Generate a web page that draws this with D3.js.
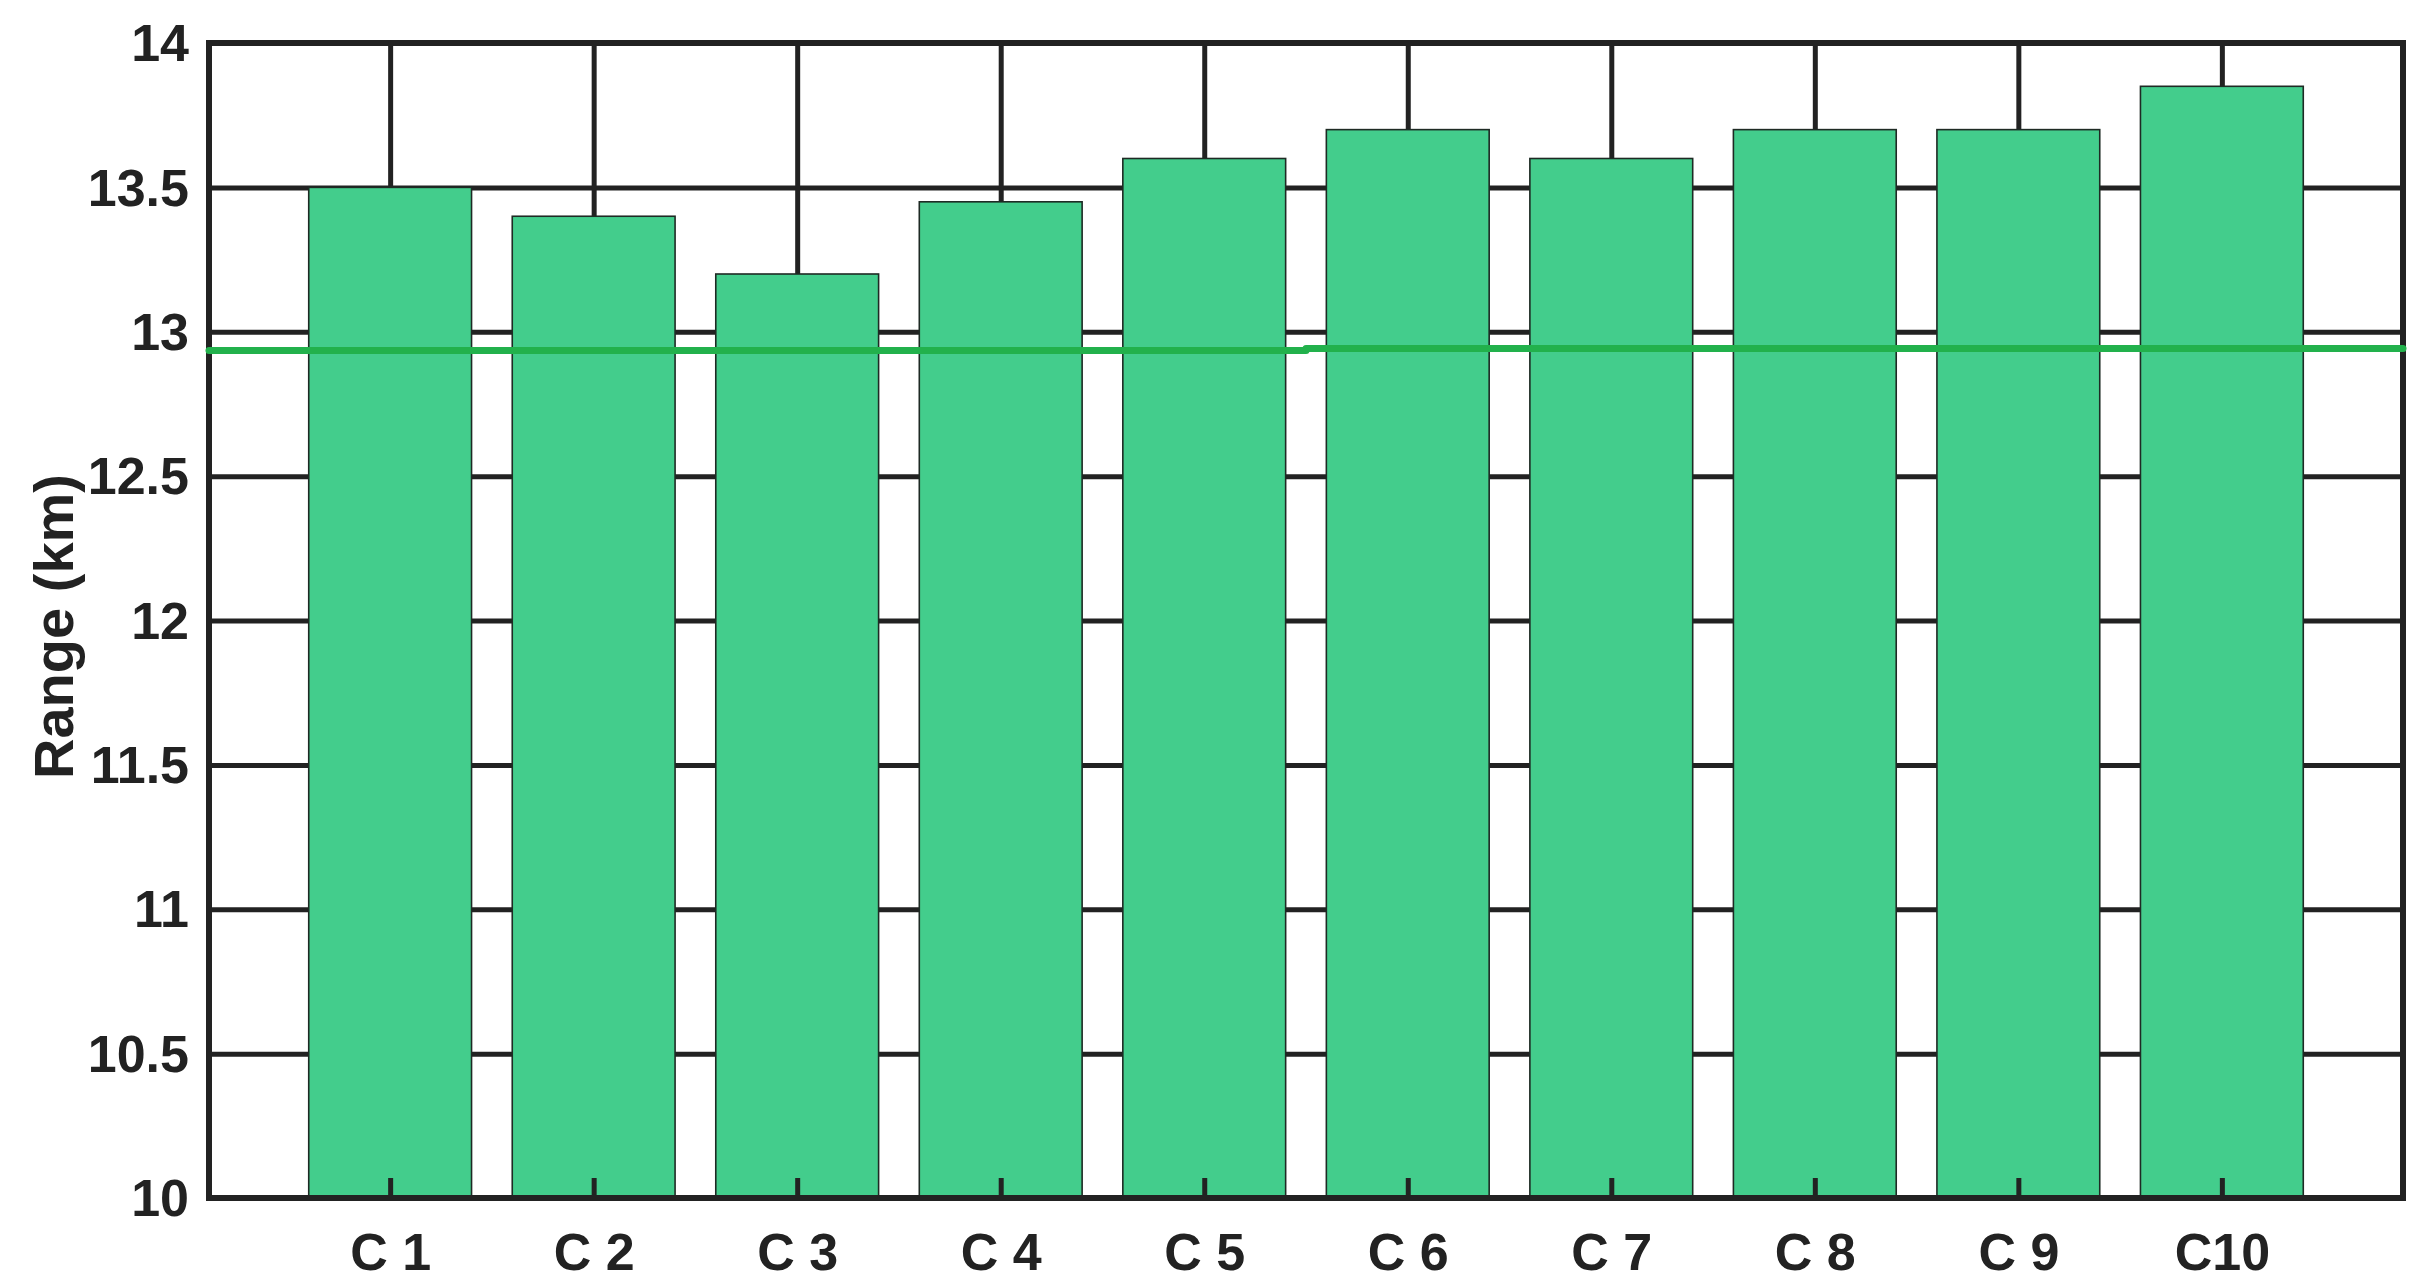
<!DOCTYPE html>
<html>
<head>
<meta charset="utf-8">
<script src="https://cdn.jsdelivr.net/npm/d3@7"></script>
<style>
  body { margin: 0; background: #fff; }
  text { font-family: "Liberation Sans", Arial, sans-serif; font-weight: bold; fill: #222; }
</style>
</head>
<body>
<svg id="chart" width="2436" height="1288"></svg>
<script>
// bar data
var categories = ['C 1', 'C 2', 'C 3', 'C 4', 'C 5', 'C 6', 'C 7', 'C 8', 'C 9', 'C10'];
var ranges = [13.5, 13.4, 13.2, 13.45, 13.6, 13.7, 13.6, 13.7, 13.7, 13.85];

// y ticks
var yTicks = [10, 10.5, 11, 11.5, 12, 12.5, 13, 13.5, 14];

// green reference line, drawn in two pieces (x in category units)
var refFrom = [0.11, 5.5];
var refTo = [5.5, 10.89];
var refValue = [12.935, 12.942];

var W = 2436, H = 1288;
var m = { left: 209, right: 33, top: 43, bottom: 90 };
var iw = W - m.left - m.right;
var ih = H - m.top - m.bottom;
var ink = '#222';

var svg = d3.select('#chart');
var g = svg.append('g').attr('transform', 'translate(' + m.left + ',' + m.top + ')');

var x = d3.scaleLinear().domain([0.11, 10.89]).range([0, iw]);
var y = d3.scaleLinear().domain([10, 14]).range([ih, 0]);
var barW = x(1.8) - x(1);   // matlab default bar width 0.8

// grid lines behind the bars
var gy = g.append('g')
  .call(d3.axisLeft(y).tickValues(yTicks).tickSizeInner(-iw).tickSizeOuter(0).tickPadding(20)
    .tickFormat(function (d) { return d; }));
gy.select('.domain').remove();
gy.selectAll('line').attr('stroke', ink).attr('stroke-width', 5);
gy.selectAll('text').style('font-size', '52px').attr('dy', '0.34em');

var gx = g.append('g')
  .attr('transform', 'translate(0,' + ih + ')')
  .call(d3.axisBottom(x).tickValues(d3.range(1, categories.length + 1))
    .tickSizeInner(-ih).tickSizeOuter(0).tickFormat(''));
gx.select('.domain').remove();
gx.selectAll('line').attr('stroke', ink).attr('stroke-width', 5);

// bars
g.selectAll('rect.bar')
  .data(ranges)
  .enter()
  .append('rect')
  .attr('class', 'bar')
  .attr('x', function (d, i) { return x(i + 1) - barW / 2; })
  .attr('y', function (d) { return y(d); })
  .attr('width', barW)
  .attr('height', function (d) { return y(10) - y(d); })
  .attr('fill', '#43cd8c')
  .attr('stroke', '#1e2a24')
  .attr('stroke-width', 1.6);

// bottom ticks + category labels on top of bars
var gxt = g.append('g')
  .attr('transform', 'translate(0,' + ih + ')')
  .call(d3.axisBottom(x).tickValues(d3.range(1, categories.length + 1))
    .tickSizeInner(-20).tickSizeOuter(0).tickPadding(35)
    .tickFormat(function (i) { return categories[i - 1]; }));
gxt.select('.domain').remove();
gxt.selectAll('line').attr('stroke', ink).attr('stroke-width', 5);
gxt.selectAll('text').style('font-size', '52px');

// axis box
g.append('rect')
  .attr('x', 0).attr('y', 0)
  .attr('width', iw).attr('height', ih)
  .attr('fill', 'none')
  .attr('stroke', ink)
  .attr('stroke-width', 6);

// reference line
g.selectAll('line.ref')
  .data(refValue)
  .enter()
  .append('line')
  .attr('class', 'ref')
  .attr('x1', function (d, i) { return x(refFrom[i]); })
  .attr('x2', function (d, i) { return x(refTo[i]); })
  .attr('y1', function (d) { return y(d); })
  .attr('y2', function (d) { return y(d); })
  .attr('stroke', '#22b14c')
  .attr('stroke-width', 7)
  .attr('stroke-linecap', 'round');

// y label
svg.append('text')
  .attr('transform', 'translate(73,' + (m.top + ih / 2 + 6) + ') rotate(-90)')
  .attr('text-anchor', 'middle')
  .style('font-size', '56px')
  .text('Range (km)');
</script>
</body>
</html>
